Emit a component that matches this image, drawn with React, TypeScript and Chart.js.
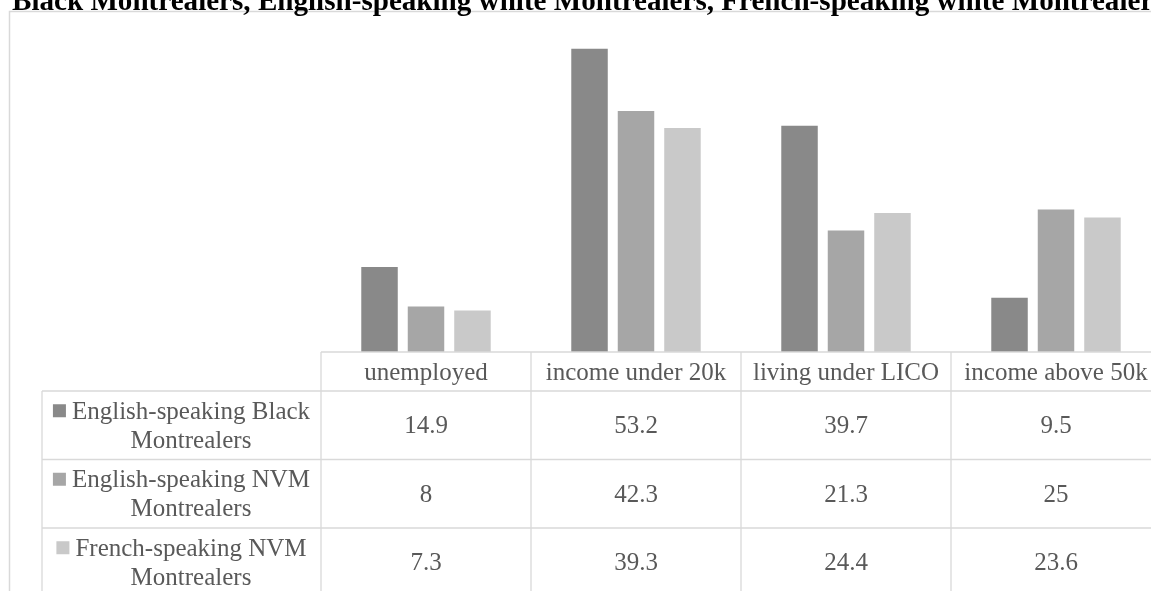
import React, { useEffect, useRef } from 'react';
import { Chart, registerables } from 'chart.js';

Chart.register(...registerables);

const categories = ['unemployed', 'income under 20k', 'living under LICO', 'income above 50k'];
const seriesNames = [
  'English-speaking Black Montrealers',
  'English-speaking NVM Montrealers',
  'French-speaking NVM Montrealers',
];
const blackEnglish = [14.9, 53.2, 39.7, 9.5];
const nvmEnglish = [8, 42.3, 21.3, 25];
const nvmFrench = [7.3, 39.3, 24.4, 23.6];
const seriesColors = ['#898989', '#a6a6a6', '#c9c9c9'];
const titleText =
  'Black Montrealers, English-speaking white Montrealers, French-speaking white Montrealers';

const SERIF = '"Liberation Serif", "Times New Roman", serif';
const GRID = '#d9d9d9';
const TEXT = '#595959';

const frameTitlePlugin = {
  id: 'frameTitle',
  beforeDraw(chart: any) {
    const ctx = chart.ctx;
    ctx.save();
    ctx.fillStyle = '#ffffff';
    ctx.fillRect(0, 0, chart.width, chart.height);
    ctx.strokeStyle = GRID;
    ctx.lineWidth = 1.5;
    ctx.beginPath();
    ctx.moveTo(9.5, chart.height);
    ctx.lineTo(9.5, 11.5);
    ctx.lineTo(chart.width, 11.5);
    ctx.stroke();
    ctx.fillStyle = '#000000';
    ctx.font = `bold 29.1px ${SERIF}`;
    ctx.textAlign = 'left';
    ctx.textBaseline = 'alphabetic';
    ctx.fillText(titleText, 12, 10);
    ctx.restore();
  },
};

const dataTablePlugin = {
  id: 'dataTable',
  afterDraw(chart: any) {
    const ctx = chart.ctx;
    const xs = chart.scales.x;
    const area = chart.chartArea;
    const n = categories.length;
    const colW = (area.right - area.left) / n;
    const tableLeft = 42;
    const headerTop = area.bottom;
    const headerH = 39;
    const rowH = 68.5;
    const bottom = chart.height;
    const line = (x1: number, y1: number, x2: number, y2: number) => {
      ctx.beginPath();
      ctx.moveTo(x1, y1);
      ctx.lineTo(x2, y2);
      ctx.stroke();
    };
    ctx.save();
    ctx.strokeStyle = GRID;
    ctx.lineWidth = 1.3;
    line(area.left, headerTop, area.right, headerTop);
    for (let r = 0; r <= seriesNames.length; r++) {
      const y = headerTop + headerH + r * rowH;
      line(tableLeft, y, area.right, y);
    }
    line(tableLeft, headerTop + headerH, tableLeft, bottom);
    for (let c = 0; c <= n; c++) {
      const x = area.left + c * colW;
      line(x, headerTop, x, bottom);
    }

    ctx.font = `25px ${SERIF}`;
    ctx.textAlign = 'center';
    ctx.textBaseline = 'alphabetic';
    ctx.fillStyle = TEXT;
    categories.forEach((c, i) => {
      ctx.fillText(c, xs.getPixelForValue(i), headerTop + headerH / 2 + 8.5);
    });

    chart.data.datasets.forEach((ds: any, r: number) => {
      const top = headerTop + headerH + r * rowH;
      const cy = top + rowH / 2;
      ctx.fillStyle = TEXT;
      ds.data.forEach((v: number, i: number) => {
        ctx.fillText(String(v), xs.getPixelForValue(i), cy + 8);
      });
      const label: string = ds.label;
      const k = label.lastIndexOf(' ');
      const lines = [label.slice(0, k), label.slice(k + 1)];
      const tx = 191;
      ctx.fillText(lines[0], tx, cy - 14.5 + 8);
      ctx.fillText(lines[1], tx, cy + 14.5 + 8);
      const w = ctx.measureText(lines[0]).width;
      ctx.fillStyle = ds.backgroundColor;
      ctx.fillRect(tx - w / 2 - 19, cy - 14.5 - 6.5, 13, 13);
    });
    ctx.restore();
  },
};

export default function App() {
  const canvasRef = useRef<HTMLCanvasElement | null>(null);

  useEffect(() => {
    if (!canvasRef.current) return;
    const values = [blackEnglish, nvmEnglish, nvmFrench];
    const chart = new Chart(canvasRef.current, {
      type: 'bar',
      data: {
        labels: categories,
        datasets: seriesNames.map((name, i) => ({
          label: name,
          data: values[i],
          backgroundColor: seriesColors[i],
          borderWidth: 0,
          categoryPercentage: 0.664,
          barPercentage: 0.785,
        })),
      },
      options: {
        responsive: false,
        animation: false,
        layout: { padding: { left: 321, right: 39, top: 10, bottom: 248 } },
        plugins: {
          legend: { display: false },
          tooltip: { enabled: false },
          title: { display: false },
        },
        scales: {
          x: { display: false },
          y: { display: false, min: 0, max: 60 },
        },
      },
      plugins: [frameTitlePlugin, dataTablePlugin],
    });
    return () => chart.destroy();
  }, []);

  return (
    <div
      style={{
        position: 'fixed',
        left: 0,
        top: 0,
        width: 1151,
        height: 591,
        overflow: 'hidden',
        background: '#ffffff',
      }}
    >
      <canvas ref={canvasRef} width={1200} height={600} style={{ display: 'block' }} />
    </div>
  );
}
